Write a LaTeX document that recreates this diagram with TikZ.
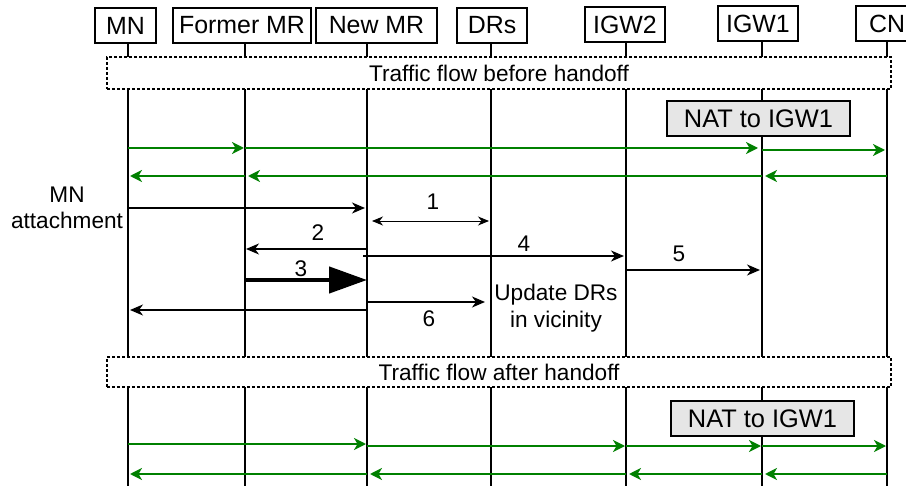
\documentclass[tikz,border=0pt]{standalone}
\usepackage{fontspec}
\setmainfont{Liberation Sans}
\usetikzlibrary{arrows.meta}
\definecolor{flowgreen}{RGB}{0,128,0}
\definecolor{natgray}{RGB}{230,230,230}
\begin{document}
\begin{tikzpicture}[x=1bp,y=1bp,yscale=-1,xscale=1,
	ent/.style={draw,line width=1.4bp,fill=white,minimum height=35bp,inner sep=0pt,font=\fontsize{25}{28}\selectfont},
	life/.style={line width=2bp},
	phase/.style={draw,line width=1.2bp,dash pattern=on 3bp off 2bp,fill=white,minimum width=784bp,inner sep=0pt,font=\fontsize{22.7}{26}\selectfont},
	nat/.style={draw,line width=1.4bp,fill=natgray,minimum width=183bp,minimum height=35bp,inner sep=0pt,font=\fontsize{25.5}{28}\selectfont},
	flow/.style={flowgreen,line width=2bp,-{Stealth[length=12bp,width=12bp,inset=3.5bp]}},
	msg/.style={line width=1.3bp,-{Stealth[length=13bp,width=11bp,inset=4bp]}},
	lbl/.style={inner sep=0pt,font=\fontsize{22.7}{26.5}\selectfont}]
	\useasboundingbox (0,0) rectangle (906,486);
	\draw (125.5,25.5) node [ent,minimum width=61bp] (mn-box) {MN};
	\draw (242,25.5) node [ent,minimum width=138bp] (fmr-box) {Former MR};
	\draw (376.5,25.5) node [ent,minimum width=121bp] (nmr-box) {New MR};
	\draw (492,25.5) node [ent,minimum width=70bp] (drs-box) {DRs};
	\draw (625,24.5) node [ent,minimum width=80bp] (igw2-box) {IGW2};
	\draw (758,23.5) node [ent,minimum width=80bp] (igw1-box) {IGW1};
	\draw (887,23.5) node [ent,minimum width=62bp] (cn-box) {CN};
	\foreach \n/\x in {mn/128,fmr/245,nmr/367,drs/491,igw2/626,igw1/762,cn/887} {
		\coordinate (\n) at (\x,486);
		\draw [life] (\n-box.south -| \n) -- (\n);
	}
	\draw (499,73) node [phase,minimum height=32bp] (before) {Traffic flow before handoff};
	\draw (499,372) node [phase,minimum height=30bp] (after) {Traffic flow after handoff};
	\draw (758.5,118.5) node [nat] (nat1) {NAT to IGW1};
	\draw (762.5,418.5) node [nat] (nat2) {NAT to IGW1};
	\draw [flow,shorten >=1bp] (mn |- 0,148) -- (fmr |- 0,148);
	\draw [flow,shorten >=4bp] (fmr |- 0,148) -- (igw1 |- 0,148);
	\draw [flow,shorten >=2bp] (igw1 |- 0,150) -- (cn |- 0,150);
	\draw [flow,shorten >=3bp] (cn |- 0,176) -- (igw1 |- 0,176);
	\draw [flow,shorten >=3bp] (igw1 |- 0,176) -- (fmr |- 0,176);
	\draw [flow,shorten >=2bp] (fmr |- 0,176) -- (mn |- 0,176);
	\draw (67,208) node [lbl,align=center] (attach) {MN\\attachment};
	\draw [msg,shorten >=2bp] (mn |- 0,208) -- (nmr |- 0,208);
	\draw [line width=0.9bp,{Stealth[length=11bp,width=9bp,inset=3.5bp]}-{Stealth[length=11bp,width=9bp,inset=3.5bp]},shorten <=5bp,shorten >=2bp] (nmr |- 0,221) -- (drs |- 0,221);
	\draw (433,202) node [lbl] (m1) {1};
	\draw [msg,shorten >=1bp] (nmr |- 0,249) -- (fmr |- 0,249);
	\draw (318,233) node [lbl] (m2) {2};
	\draw [msg,shorten <=-4bp,shorten >=2bp] (nmr |- 0,256) -- (igw2 |- 0,256);
	\draw (524,244) node [lbl] (m4) {4};
	\draw [msg,shorten >=2bp] (igw2 |- 0,270) -- (igw1 |- 0,270);
	\draw (679,254) node [lbl] (m5) {5};
	\draw [line width=4.5bp,-{Triangle[length=38bp,width=26bp]}] (fmr |- 0,280) -- (nmr |- 0,280);
	\draw (301,269) node [lbl] (m3) {3};
	\draw [msg,shorten >=6bp] (nmr |- 0,302) -- (drs |- 0,302);
	\draw [msg,shorten >=2bp] (nmr |- 0,310) -- (mn |- 0,310);
	\draw (429,319) node [lbl] (m6) {6};
	\draw (556,308) node [lbl,align=center] (update) {Update DRs\\in vicinity};
	\draw [flow,shorten >=1bp] (mn |- 0,444) -- (nmr |- 0,444);
	\draw [flow,shorten >=1bp] (nmr |- 0,446) -- (igw2 |- 0,446);
	\draw [flow,shorten >=1bp] (igw2 |- 0,446) -- (igw1 |- 0,446);
	\draw [flow,shorten >=1bp] (igw1 |- 0,446) -- (cn |- 0,446);
	\draw [flow,shorten >=3bp] (cn |- 0,474) -- (igw1 |- 0,474);
	\draw [flow,shorten >=3bp] (igw1 |- 0,474) -- (igw2 |- 0,474);
	\draw [flow,shorten >=3bp] (igw2 |- 0,474) -- (nmr |- 0,474);
	\draw [flow,shorten >=2bp] (nmr |- 0,474) -- (mn |- 0,474);
\end{tikzpicture}
\end{document}
